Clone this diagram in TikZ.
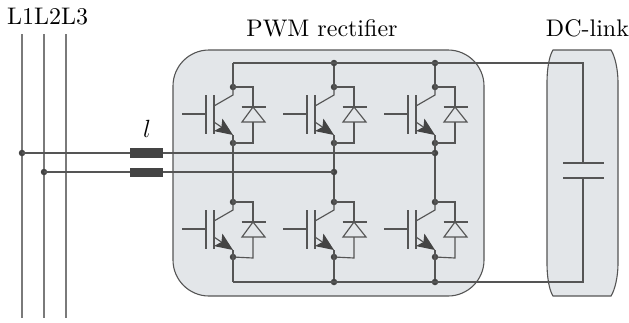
\documentclass[tikz,border=0pt]{standalone}
\usepackage{fontspec}
\setmainfont{lmroman10-regular}[Extension=.otf]
\usetikzlibrary{arrows.meta,calc}
\definecolor{wire}{HTML}{555555}
\definecolor{phase}{HTML}{7A7A7A}
\definecolor{panel}{HTML}{E3E6E9}
\definecolor{dark}{HTML}{444444}
\tikzset{
  wirel/.style={draw=wire,line width=1.15pt},
  phasel/.style={draw=phase,line width=1.4pt},
  panelbox/.style={draw=wire,line width=1.1pt,fill=panel},
  junction/.style={circle,fill=dark,inner sep=0pt,minimum size=6.5pt},
  choke/.style={rectangle,fill=dark,inner sep=0pt,minimum width=33pt,minimum height=9.5pt},
  textlabel/.style={anchor=base,text=black,font=\fontsize{24}{28}\selectfont,inner sep=0pt}
}
\begin{document}
\begin{tikzpicture}[x=1pt,y=-1pt]
\useasboundingbox (0,0) rectangle (629,322);
% panels
\draw[panelbox,rounded corners=36pt] (173,50) rectangle (484,296);
\draw[panelbox] (553,50) -- (611,50) .. controls (615,56) and (618,70) .. (618,82)
  -- (618,264) .. controls (618,276) and (615,290) .. (611,296) -- (553,296)
  .. controls (549,290) and (547,276) .. (547,264) -- (547,82)
  .. controls (547,70) and (549,56) .. (553,50) -- cycle;
% labels
\node[textlabel] (t1) at (47.5,24) {L1L2L3};
\node[textlabel] (t2) at (322,36) {PWM rectifier};
\node[textlabel] (t3) at (587.5,36) {DC-link};
\node[textlabel] (t4) at (147,137) {$l$};
% phase lines
\foreach \n/\x in {p1/22,p2/44,p3/66}{
  \coordinate (\n top) at (\x,34);
  \coordinate (\n bot) at (\x,318);
  \draw[phasel] (\n top) -- (\n bot);
}
% junctions on buses
\foreach \c/\x in {a/233,b/334,c/435}{
  \coordinate (\c top) at (\x,63);
  \coordinate (\c bot) at (\x,282);
  \node[junction] (\c uc) at (\x,87) {};
  \node[junction] (\c ue) at (\x,143) {};
  \node[junction] (\c lc) at (\x,202) {};
  \node[junction] (\c le) at (\x,257) {};
  \draw[wirel] (\c ue.center) -- (\c lc.center);
  \draw[wirel] (\c top) -- (\c uc.center);
  \draw[wirel] (\c le.center) -- (\c bot);
}
\node[junction] (btopdot) at (btop) {};
\node[junction] (ctopdot) at (ctop) {};
\node[junction] (bbotdot) at (bbot) {};
\node[junction] (cbotdot) at (cbot) {};
\coordinate (capt) at (583,63);
\coordinate (capb) at (583,282);
\coordinate (capu) at (583,163);
\coordinate (capl) at (583,178);
\draw[wirel] (atop) -- (capt) -- (capu);
\draw[wirel] (abot) -- (capb) -- (capl);
\draw[wirel] ($(capu)+(-20,0)$) -- ($(capu)+(21,0)$);
\draw[wirel] ($(capl)+(-20,0)$) -- ($(capl)+(21,0)$);
% switches
\foreach \c in {a,b,c}{
  \foreach \k in {u,l}{
    \coordinate (C) at (\c \k c);
    \coordinate (E) at (\c \k e);
    \draw[wirel] (C) -- ++(0,8) -- ++(-19,11);
    \draw[wirel] ($(C)+(-27,27)$) -- ($(C)+(-51,27)$);
    \draw[wirel] ($(C)+(-27,8)$) -- ($(C)+(-27,47)$);
    \draw[wirel] ($(C)+(-19,8)$) -- ($(C)+(-19,47)$);
    \draw[wirel,-{Stealth[length=18pt,width=15pt,inset=4pt,color=dark]}] ($(C)+(-19,35)$) -- ($(C)+(0,48)$);
    \draw[wirel] ($(C)+(0,48)$) -- (E);
    % diode
    \draw[wirel] (C) -- ++(20,0) -- ++(0,20);
    \draw[wirel] ($(C)+(8.5,20)$) -- ($(C)+(32.5,20)$);
    \draw[wirel] ($(C)+(20,20)$) -- ($(C)+(9,35)$) -- ($(C)+(32,35)$) -- cycle;
    \draw[wirel] ($(C)+(20,35)$) -- ($(C)+(20,56)$) -- (E);
  }
}
% phase connections
\node[junction] (j1) at (22,153) {};
\node[junction] (j2) at (44,172) {};
\node[junction] (k1) at (435,153) {};
\node[junction] (k2) at (334,172) {};
\draw[wirel] (j1.center) -- (k1.center);
\draw[wirel] (j2.center) -- (k2.center);
\node[choke] (l1) at (146.5,153) {};
\node[choke] (l2) at (146.5,172.5) {};
\end{tikzpicture}
\end{document}
